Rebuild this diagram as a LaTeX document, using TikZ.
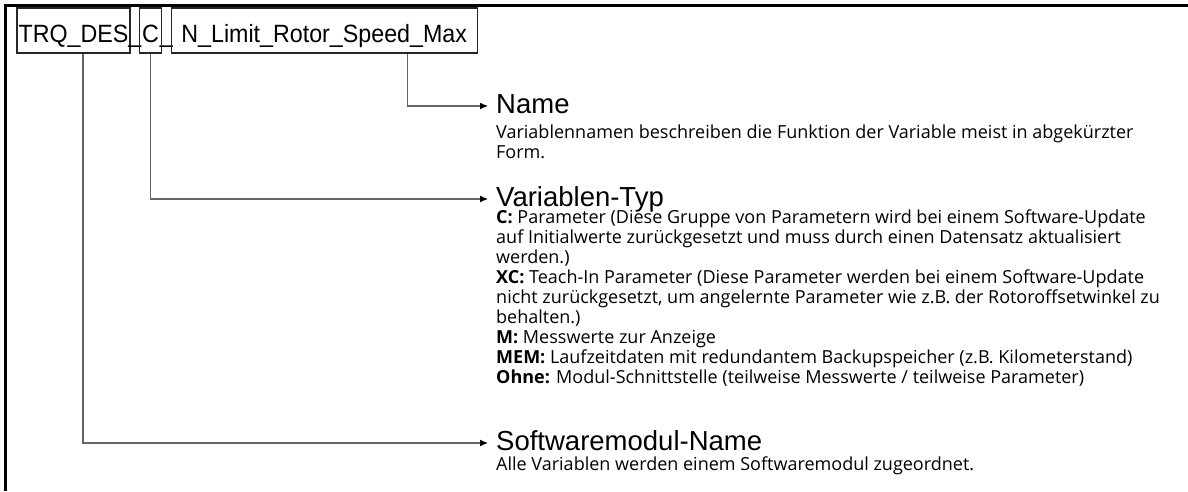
\documentclass[tikz,border=0pt]{standalone}
\usepackage{fontspec}
\setmainfont{Open Sans}
\newfontfamily\hdfont{Liberation Sans}
\newfontfamily\boxfont[FakeStretch=0.93]{Liberation Sans}
\usetikzlibrary{arrows.meta,positioning}

\begin{document}
\begin{tikzpicture}[
  x=1pt, y=-1pt,
  node distance=0pt,
  tbox/.style={draw=black!85, line width=1.2pt, minimum height=45pt,
    inner sep=0pt, text height=23pt, text depth=0pt,
    font=\boxfont\fontsize{25}{25}\selectfont},
  uscore/.style={inner sep=0pt, minimum width=8pt, text height=23pt,
    text depth=0pt, font=\boxfont\fontsize{25}{25}\selectfont},
  title/.style={anchor=base west, inner sep=0pt, text height=14pt,
    text depth=0pt, font=\hdfont\fontsize{27.5}{27.5}\selectfont},
  body/.style={anchor=base west, inner sep=0pt, align=left,
    font=\fontsize{18}{19.9}\selectfont},
  conn/.style={draw=black!60, line width=1.1pt, shorten >=8pt,
    -{Latex[length=8pt, width=7pt, color=black]}}
]
  \useasboundingbox (0,0) rectangle (1188,491);
  \draw[line width=3pt] (1188,5) -- (5,5) -- (5,491);

  % name parts
  \node[tbox, minimum width=113pt] (mod) at (73.5,30.5) {TRQ\_DES};
  \node[uscore, right=of mod] (u1) {\hbox to 8pt{\hss\_\hss}};
  \node[tbox, minimum width=22pt, right=of u1] (typ) {C};
  \node[uscore, right=of typ] (u2) {\hbox to 8pt{\hss\_\hss}};
  \node[tbox, minimum width=306pt, right=of u2] (nam) {N\_Limit\_Rotor\_Speed\_Max};

  % explanations (body base = last line)
  \node[title] (namhd) at (496,113) {Name};
  \node[body] (nambody) at ([yshift=-45.5pt]namhd.base west)
    {Variablennamen beschreiben die Funktion der Variable meist in abgekürzter\\
     Form.};

  \node[title] (typhd) at (496,206) {Variablen-Typ};
  \node[body] (typbody) at ([yshift=-177pt]typhd.base west)
    {\textbf{C:} Parameter (Diese Gruppe von Parametern wird bei einem Software-Update\\
     auf Initialwerte zurückgesetzt und muss durch einen Datensatz aktualisiert\\
     werden.)\\
     \textbf{XC:} Teach-In Parameter (Diese Parameter werden bei einem Software-Update\\
     nicht zurückgesetzt, um angelernte Parameter wie z.B. der Rotoroffsetwinkel zu\\
     behalten.)\\
     \textbf{M:} Messwerte zur Anzeige\\
     \textbf{MEM:} Laufzeitdaten mit redundantem Backupspeicher (z.B. Kilometerstand)\\
     \textbf{Ohne:} Modul-Schnittstelle (teilweise Messwerte / teilweise Parameter)};

  \node[title] (modhd) at (496,450) {Softwaremodul-Name};
  \node[body] (modbody) at ([yshift=-20pt]modhd.base west)
    {Alle Variablen werden einem Softwaremodul zugeordnet.};

  \draw[conn] ([xshift=83pt]nam.south) |- (namhd.west);
  \draw[conn] (typ.south) |- (typhd.west);
  \draw[conn] ([xshift=9.5pt]mod.south) |- (modhd.west);
\end{tikzpicture}
\end{document}
